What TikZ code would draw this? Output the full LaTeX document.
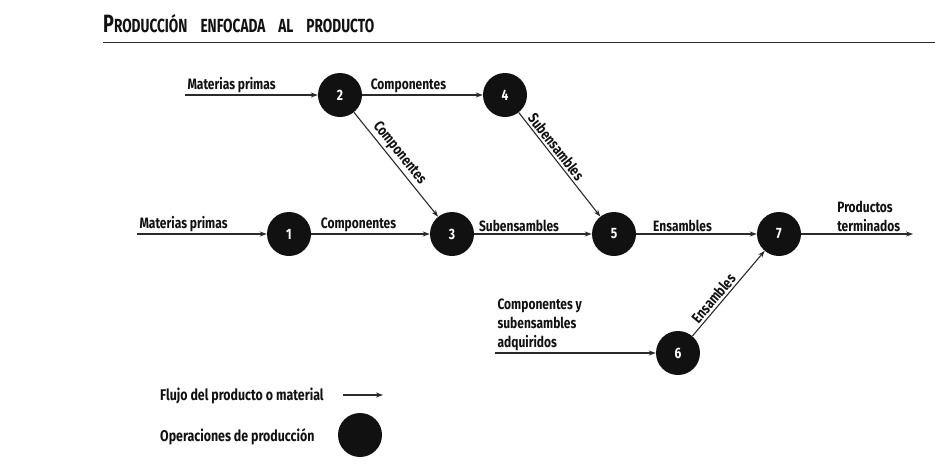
\documentclass[tikz,border=0pt]{standalone}
\usepackage{fontspec}
\setmainfont{Fira Sans}
\newfontfamily\cond[FakeStretch=0.8]{Fira Sans}
\newfontfamily\tcond[FakeStretch=0.72]{Fira Sans}
\usetikzlibrary{arrows.meta}
\definecolor{ink}{HTML}{111111}
\definecolor{linec}{HTML}{2A2A2A}
\tikzset{
  op/.style={circle, fill=ink, minimum size=44pt, inner sep=0pt, text=white, font=\cond\fontsize{15}{15}\selectfont\bfseries},
  flow/.style={draw=linec, line width=1.1pt, -{Stealth[length=7pt,width=5pt]}},
  lbl/.style={font=\cond\fontsize{15}{19}\selectfont\bfseries, text=ink, inner sep=2pt},
  leg/.style={font=\cond\fontsize{15.5}{19}\selectfont\bfseries, text=ink, inner sep=0pt},
}
\begin{document}
\begin{tikzpicture}[x=1pt,y=-1pt]
\useasboundingbox (0,0) rectangle (935,469);
% title
\node[anchor=base west, inner sep=0pt, text=ink] (title) at (103,32)
  {\tcond\bfseries{\fontsize{25}{25}\selectfont P}{\fontsize{19}{19}\selectfont RODUCCIÓN\hspace{13pt}ENFOCADA\hspace{13pt}AL\hspace{13pt}PRODUCTO}};
\coordinate (rl) at (103,42);
\coordinate (rr) at (935,42);
\draw[linec, line width=1pt] (rl) -- (rr);
% operations
\node[op] (n2) at (340,95) {2};
\node[op] (n4) at (505,95) {4};
\node[op] (n1) at (289,234) {1};
\node[op] (n3) at (452,234) {3};
\node[op] (n5) at (614,234) {5};
\node[op] (n7) at (779,234) {7};
\node[op] (n6) at (678,353) {6};
% free ends
\coordinate (in2) at (185,95);
\coordinate (in1) at (137,234);
\coordinate (in6) at (495,353);
\coordinate (out7) at (913,234);
% flows
\draw[flow] (in2) -- node[lbl, pos=0, anchor=south west]{Materias primas} (n2);
\draw[flow] (n2) -- node[lbl, pos=0.05, anchor=south west]{Componentes} (n4);
\draw[flow] (in1) -- node[lbl, pos=0, anchor=south west]{Materias primas} (n1);
\draw[flow] (n1) -- node[lbl, pos=0.06, anchor=south west]{Componentes} (n3);
\draw[flow] (n3) -- node[lbl, pos=0.02, anchor=south west]{Subensambles} (n5);
\draw[flow] (n5) -- node[lbl, pos=0.12, anchor=south west]{Ensambles} (n7);
\draw[flow] (n7) -- node[lbl, pos=0.3, anchor=south west, align=left]{Productos\\terminados} (out7);
\draw[flow] (n2) -- node[lbl, pos=0.45, sloped, above]{Componentes} (n3);
\draw[flow] (n4) -- node[lbl, pos=0.38, sloped, above]{Subensambles} (n5);
\draw[flow] (in6) -- node[lbl, pos=0, anchor=south west, align=left]{Componentes y\\subensambles\\adquiridos} (n6);
\draw[flow] (n6) -- node[lbl, pos=0.38, sloped, above]{Ensambles} (n7);
% legend
\node[leg, anchor=base west] (lg1) at (160,400) {Flujo del producto o material};
\coordinate (la) at (343,395);
\coordinate (lb) at (383,395);
\draw[flow] (la) -- (lb);
\node[leg, anchor=base west] (lg2) at (160,441) {Operaciones de producción};
\node[op, minimum size=44pt] (lgc) at (360,435) {};
\end{tikzpicture}
\end{document}
